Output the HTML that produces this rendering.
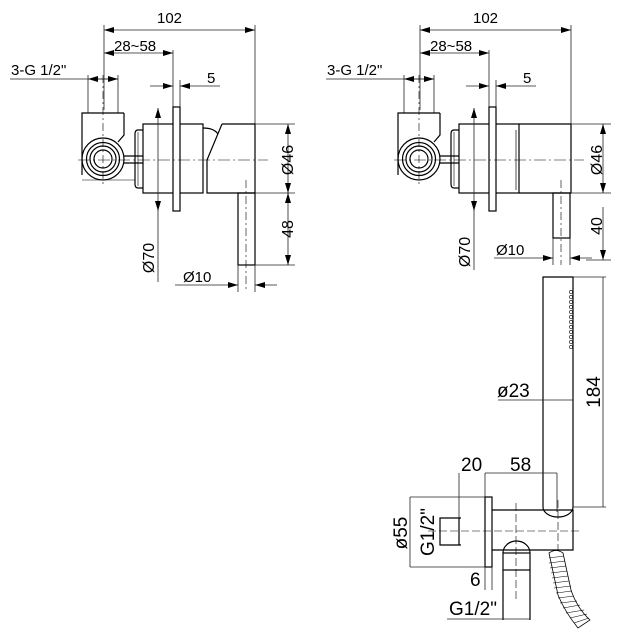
<!DOCTYPE html>
<html><head><meta charset="utf-8"><style>
html,body{margin:0;padding:0;background:#fff}
svg{display:block}
text{font-family:"Liberation Sans",Arial,sans-serif;fill:#000}
</style></head><body>
<svg width="624" height="631" viewBox="0 0 624 631" xmlns="http://www.w3.org/2000/svg">
<defs>
<marker id="a" viewBox="0 0 10 6" refX="10" refY="3" markerWidth="10" markerHeight="6" orient="auto-start-reverse" markerUnits="userSpaceOnUse"><path d="M0,0L10,3L0,6z" fill="#000"/></marker>
<style>.d{stroke-width:0.8;stroke:#222}</style>
</defs>
<g fill="none" stroke="#000" stroke-width="1.2">
<!-- LEFT DRAWING -->
<g>
<line class="d" x1="104" y1="25" x2="104" y2="110"/>
<line class="d" x1="255" y1="25" x2="255" y2="124"/>
<line class="d" x1="104" y1="30" x2="255" y2="30" marker-start="url(#a)" marker-end="url(#a)"/>
<line class="d" x1="104" y1="53" x2="173" y2="53" marker-start="url(#a)" marker-end="url(#a)"/>
<line class="d" x1="173" y1="50" x2="173" y2="107"/>
<line class="d" x1="180" y1="80" x2="180" y2="107"/>
<line class="d" x1="10" y1="79" x2="118" y2="79"/>
<line class="d" x1="88" y1="79" x2="104" y2="79" marker-start="url(#a)"/>
<line class="d" x1="104" y1="79" x2="118" y2="79" marker-end="url(#a)"/>
<line class="d" x1="88" y1="75" x2="88" y2="113"/>
<line class="d" x1="118" y1="75" x2="118" y2="113"/>
<line class="d" x1="150" y1="86" x2="173" y2="86" marker-end="url(#a)"/>
<line class="d" x1="180" y1="86" x2="220" y2="86" marker-start="url(#a)"/>
<path d="M124,113H82V175"/>
<path d="M124,113V135L118,142"/>
<circle cx="103" cy="159" r="21"/>
<circle cx="103" cy="159" r="16.5"/>
<circle cx="103" cy="159" r="13"/>
<circle cx="103" cy="159" r="9"/>
<path d="M124,156H143M124,163H143"/>
<path d="M82,180H135" stroke-width="0.5"/>
<path d="M143,130H138Q135,130 135,134V184Q135,188 138,188H143"/>
<line x1="138" y1="132" x2="138" y2="186" stroke-width="0.6"/>
<rect x="143" y="124" width="60" height="69"/>
<rect x="173" y="107" width="7" height="104" fill="#fff"/>
<path d="M203,128Q214,128 218,134"/>
<path d="M222,124H255V193H207V160L222,124"/>
<rect x="238" y="193" width="17" height="72"/>
<line x1="78" y1="160" x2="268" y2="160" stroke-dasharray="12,3,2,3" stroke-width="0.6"/>
<line x1="103" y1="75" x2="103" y2="185" stroke-dasharray="8,3,2,3" stroke-width="0.6"/>
<line x1="246" y1="180" x2="246" y2="290" stroke-dasharray="8,3,2,3" stroke-width="0.6"/>
<line class="d" x1="158" y1="108" x2="158" y2="211" marker-start="url(#a)" marker-end="url(#a)"/>
<line class="d" x1="158" y1="211" x2="158" y2="282"/>
<line class="d" x1="255" y1="124" x2="295" y2="124"/>
<line class="d" x1="255" y1="193" x2="295" y2="193"/>
<line class="d" x1="255" y1="265" x2="295" y2="265"/>
<line class="d" x1="288" y1="124" x2="288" y2="193" marker-start="url(#a)" marker-end="url(#a)"/>
<line class="d" x1="288" y1="193" x2="288" y2="265" marker-start="url(#a)" marker-end="url(#a)"/>
<line class="d" x1="238" y1="265" x2="238" y2="292"/>
<line class="d" x1="255" y1="265" x2="255" y2="292"/>
<line class="d" x1="175" y1="285" x2="238" y2="285" marker-end="url(#a)"/>
<line class="d" x1="255" y1="285" x2="277" y2="285" marker-start="url(#a)"/>
</g>
<!-- RIGHT DRAWING -->
<g transform="translate(316,0)">
<line class="d" x1="104" y1="25" x2="104" y2="110"/>
<line class="d" x1="255" y1="25" x2="255" y2="124"/>
<line class="d" x1="104" y1="30" x2="255" y2="30" marker-start="url(#a)" marker-end="url(#a)"/>
<line class="d" x1="104" y1="53" x2="173" y2="53" marker-start="url(#a)" marker-end="url(#a)"/>
<line class="d" x1="173" y1="50" x2="173" y2="107"/>
<line class="d" x1="180" y1="80" x2="180" y2="107"/>
<line class="d" x1="10" y1="79" x2="118" y2="79"/>
<line class="d" x1="88" y1="79" x2="104" y2="79" marker-start="url(#a)"/>
<line class="d" x1="104" y1="79" x2="118" y2="79" marker-end="url(#a)"/>
<line class="d" x1="88" y1="75" x2="88" y2="113"/>
<line class="d" x1="118" y1="75" x2="118" y2="113"/>
<line class="d" x1="150" y1="86" x2="173" y2="86" marker-end="url(#a)"/>
<line class="d" x1="180" y1="86" x2="220" y2="86" marker-start="url(#a)"/>
<path d="M124,113H82V175"/>
<path d="M124,113V135L118,142"/>
<circle cx="103" cy="159" r="21"/>
<circle cx="103" cy="159" r="16.5"/>
<circle cx="103" cy="159" r="13"/>
<circle cx="103" cy="159" r="9"/>
<path d="M124,156H143M124,163H143"/>
<path d="M143,130H138Q135,130 135,134V184Q135,188 138,188H143"/>
<line x1="138" y1="132" x2="138" y2="186" stroke-width="0.6"/>
<rect x="143" y="124" width="60" height="69"/>
<rect x="173" y="107" width="7" height="104" fill="#fff"/>
<path d="M203,124H255V193H203"/>
<line x1="200" y1="130" x2="200" y2="190" stroke-width="0.7"/>
<rect x="237" y="193" width="17" height="45"/>
<line x1="78" y1="160" x2="268" y2="160" stroke-dasharray="12,3,2,3" stroke-width="0.6"/>
<line x1="103" y1="75" x2="103" y2="185" stroke-dasharray="8,3,2,3" stroke-width="0.6"/>
<line x1="245" y1="180" x2="245" y2="265" stroke-dasharray="8,3,2,3" stroke-width="0.6"/>
<line class="d" x1="158" y1="108" x2="158" y2="211" marker-start="url(#a)" marker-end="url(#a)"/>
<line class="d" x1="158" y1="211" x2="158" y2="270"/>
<line class="d" x1="255" y1="124" x2="295" y2="124"/>
<line class="d" x1="255" y1="193" x2="295" y2="193"/>
<line class="d" x1="287" y1="124" x2="287" y2="193" marker-start="url(#a)" marker-end="url(#a)"/>
<line class="d" x1="287" y1="207" x2="287" y2="260" marker-end="url(#a)"/>
<line class="d" x1="270" y1="260" x2="295" y2="260"/>
<line class="d" x1="237" y1="238" x2="237" y2="265"/>
<line class="d" x1="254" y1="238" x2="254" y2="265"/>
<line class="d" x1="178" y1="258" x2="237" y2="258" marker-end="url(#a)"/>
<line class="d" x1="254" y1="258" x2="276" y2="258" marker-start="url(#a)"/>
</g>
<!-- BOTTOM RIGHT -->
<path d="M543,277H573V507A15,10 0 0 1 543,507Z"/>
<g stroke-width="0.6">
<circle cx="571" cy="292" r="1.6"/><circle cx="571" cy="297" r="1.6"/><circle cx="571" cy="302" r="1.6"/>
<circle cx="571" cy="307" r="1.6"/><circle cx="571" cy="312" r="1.6"/><circle cx="571" cy="317" r="1.6"/>
<circle cx="571" cy="322" r="1.6"/><circle cx="571" cy="327" r="1.6"/><circle cx="571" cy="332" r="1.6"/>
<circle cx="571" cy="337" r="1.6"/><circle cx="571" cy="342" r="1.6"/><circle cx="571" cy="347" r="1.6"/>
</g>
<line class="d" x1="573" y1="277" x2="606" y2="277"/>
<line class="d" x1="573" y1="507" x2="606" y2="507"/>
<line class="d" x1="603" y1="277" x2="603" y2="507"/>
<line class="d" x1="498" y1="400" x2="573" y2="400"/>
<line class="d" x1="485" y1="473" x2="557" y2="473"/>
<line class="d" x1="459" y1="473" x2="459" y2="545"/>
<line class="d" x1="485" y1="473" x2="485" y2="497"/>
<line class="d" x1="557" y1="473" x2="557" y2="512"/>
<rect x="485" y="497" width="7" height="70"/>
<path d="M492,510H573V550H492"/>
<path d="M461,518H440V545H461"/>
<line x1="459" y1="518" x2="459" y2="545"/>
<line class="d" x1="410" y1="497" x2="485" y2="497"/>
<line class="d" x1="410" y1="567" x2="485" y2="567"/>
<line class="d" x1="410" y1="497" x2="410" y2="567"/>
<line class="d" x1="485" y1="567" x2="485" y2="590"/>
<line class="d" x1="492" y1="567" x2="492" y2="590"/>
<line x1="428" y1="531" x2="580" y2="531" stroke-dasharray="8,3" stroke-width="0.6"/>
<line x1="516" y1="503" x2="516" y2="600" stroke-dasharray="8,3" stroke-width="0.6"/>
<line x1="558" y1="500" x2="558" y2="550" stroke-dasharray="8,3" stroke-width="0.6"/>
<path d="M503,553A13.5,12 0 0 1 530,553"/>
<rect x="503" y="553" width="27" height="17"/>
<path d="M503,570V620M530,570V620"/>
<line class="d" x1="447" y1="619" x2="530" y2="619"/>
<path d="M549,553Q556,548 563,553 L571,590 Q577,608 590,620 L578,628 Q565,612 558,595 Z" stroke-width="0.8"/>
<g stroke-width="0.6">
<path d="M549,558L564,556M549,563L565,561M550,568L566,566M551,573L567,571M552,578L568,576M553,583L569,581M554,588L571,586M556,593L572,591M558,598L574,596M560,603L577,601M563,608L580,605M566,613L584,610M570,618L587,614M574,623L589,618"/>
</g>
</g>
<g font-size="15">
<text x="157" y="23">102</text>
<text x="114" y="51">28~58</text>
<text x="11" y="75">3-G 1/2"</text>
<text x="207" y="83">5</text>
<text x="183" y="282">Ø10</text>
<text x="473" y="23">102</text>
<text x="430" y="51">28~58</text>
<text x="327" y="75">3-G 1/2"</text>
<text x="523" y="83">5</text>
<text x="496" y="255">Ø10</text>
</g>
<g font-size="16">
<text transform="translate(293,160) rotate(-90)" text-anchor="middle">Ø46</text>
<text transform="translate(293,229) rotate(-90)" text-anchor="middle">48</text>
<text transform="translate(154,258) rotate(-90)" text-anchor="middle">Ø70</text>
<text transform="translate(602,160) rotate(-90)" text-anchor="middle">Ø46</text>
<text transform="translate(602,226) rotate(-90)" text-anchor="middle">40</text>
<text transform="translate(470,252) rotate(-90)" text-anchor="middle">Ø70</text>
</g>
<g font-size="19">
<text x="497" y="397">ø23</text>
<text transform="translate(600,392) rotate(-90)" text-anchor="middle">184</text>
<text x="461" y="471">20</text>
<text x="510" y="471">58</text>
<text transform="translate(407,533) rotate(-90)" text-anchor="middle">ø55</text>
<text transform="translate(434,532) rotate(-90)" text-anchor="middle">G1/2"</text>
<text x="470" y="586">6</text>
<text x="449" y="615">G1/2"</text>
</g>
</svg>
</body></html>
